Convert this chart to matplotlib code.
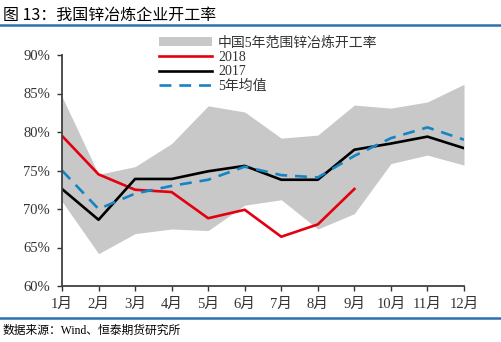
import matplotlib.pyplot as plt
from matplotlib.lines import Line2D
from matplotlib.patches import Patch

plt.rcParams['font.family'] = ['Liberation Serif', 'Noto Sans CJK SC']

months = ['1月', '2月', '3月', '4月', '5月', '6月', '7月', '8月', '9月', '10月', '11月', '12月']
band_high = [84.6, 74.5, 75.5, 78.5, 83.4, 82.6, 79.2, 79.6, 83.5, 83.1, 83.9, 86.2]
band_low = [71.0, 64.2, 66.8, 67.4, 67.2, 70.5, 71.2, 67.4, 69.4, 75.9, 77.0, 75.7]
rate_2018 = [79.5, 74.5, 72.5, 72.2, 68.8, 69.9, 66.4, 68.0, 72.6]
rate_2017 = [72.6, 68.6, 73.9, 73.9, 74.9, 75.6, 73.8, 73.8, 77.7, 78.5, 79.4, 77.9]
avg_5yr = [75.0, 70.0, 72.0, 73.0, 73.8, 75.5, 74.4, 74.1, 76.9, 79.2, 80.6, 79.0]
yticks = [60, 65, 70, 75, 80, 85, 90]

W, H = 501, 342
fig = plt.figure(figsize=(W / 100, H / 100), dpi=100)
ax = fig.add_axes([62 / W, 1 - 286 / H, (464 - 62) / W, (286 - 55) / H])

x = list(range(1, 13))
ax.fill_between(x, band_low, band_high, color='#c8c8c8', linewidth=0)
ax.plot(x[:len(rate_2018)], rate_2018, color='#e3000f', lw=1.9)
ax.plot(x, rate_2017, color='black', lw=1.9)
ax.plot(x, avg_5yr, color='#1584c4', lw=1.9, dashes=(4.5, 3))

ax.set_xlim(1, 12)
ax.set_ylim(60, 90)
ax.set_xticks(x)
ax.set_xticklabels(months)
ax.set_yticks(yticks)
ax.set_yticklabels([f'{v}%' for v in yticks])
ax.tick_params(labelsize=10.5, colors='#333333', length=3.5, width=1, pad=5)
for s in ['top', 'right']:
    ax.spines[s].set_visible(False)
for s in ['left', 'bottom']:
    ax.spines[s].set_color('#404040')
    ax.spines[s].set_linewidth(1.3)

handles = [
    Patch(facecolor='#c8c8c8', edgecolor='none'),
    Line2D([], [], color='#e3000f', lw=1.9),
    Line2D([], [], color='black', lw=1.9),
    Line2D([], [], color='#1584c4', lw=1.9, dashes=(4.5, 3)),
]
labels = ['中国5年范围锌冶炼开工率', '2018', '2017', '5年均值']
fig.legend(handles, labels, loc='upper left', bbox_to_anchor=(159 / W, 1 - 36 / H),
           frameon=False, fontsize=10, handlelength=3.8, handleheight=0.6,
           handletextpad=0.45, labelspacing=0.1, borderaxespad=0, borderpad=0,
           labelcolor='#333333')

# header, rules and source line
fig.text(3 / W, 1 - 15 / H, '图 13：我国锌冶炼企业开工率', fontsize=11.5,
         family=['Noto Sans CJK SC'], va='center', ha='left', color='black')
fig.add_artist(Line2D([0, 1], [1 - 25 / H, 1 - 25 / H], color='#2e6fb0', lw=1.8))
fig.add_artist(Line2D([0, 1], [1 - 318 / H, 1 - 318 / H], color='#2e6fb0', lw=1.8))
fig.text(3 / W, 1 - 331 / H, '数据来源：Wind、恒泰期货研究所', fontsize=8.5,
         va='center', ha='left', color='black')

fig.savefig('out.png', dpi=100)
